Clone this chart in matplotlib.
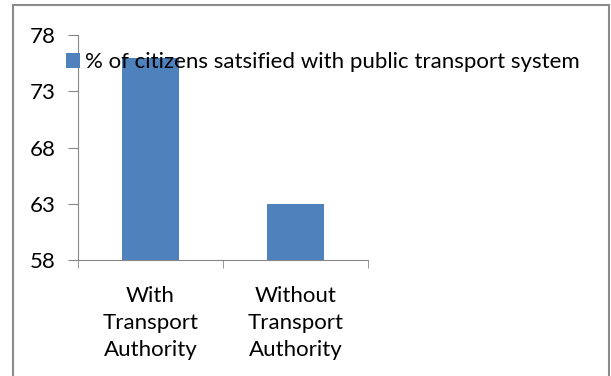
import matplotlib.pyplot as plt
from matplotlib.patches import Rectangle

categories = ["With\nTransport\nAuthority", "Without\nTransport\nAuthority"]
satisfied = [76, 63]
series_name = "% of citizens satsified with public transport system"
y_ticks = [58, 63, 68, 73, 78]

plt.rcParams['font.family'] = ['Lato', 'DejaVu Sans']

fig = plt.figure(figsize=(6.11, 3.76), dpi=100)
ax = fig.add_axes([78 / 611, 1 - 260 / 376, 290 / 611, 225 / 376])

ax.bar(range(len(categories)), satisfied, width=0.39, color='#4F81BD',
       label=series_name, zorder=2)

ax.set_ylim(58, 78)
ax.set_xlim(-0.5, 1.5)
ax.set_yticks(y_ticks)
ax.set_xticks(range(len(categories)))
ax.set_xticklabels(categories, fontsize=16, linespacing=1.42)
ax.set_xticks([-0.5, 0.5, 1.5], minor=True)
ax.tick_params(axis='x', which='major', length=0, pad=19)
ax.tick_params(axis='x', which='minor', length=6, color='#868686')
ax.tick_params(axis='y', length=7, color='#868686', labelsize=16, pad=9)

for s in ['top', 'right']:
    ax.spines[s].set_visible(False)
for s in ['left', 'bottom']:
    ax.spines[s].set_color('#868686')

fig.legend(loc='center left', bbox_to_anchor=(66 / 611, 1 - 62 / 376),
           frameon=False, fontsize=16, handlelength=0.65, handleheight=0.65,
           handletextpad=0.2, borderpad=0, borderaxespad=0)

# outer chart border
fig.patches.append(Rectangle((13 / 611, -0.05), 596 / 611, 1.05 - 5 / 376,
                             transform=fig.transFigure, fill=False,
                             edgecolor='#8C8C8C', linewidth=1.5))

plt.savefig('out.png', dpi=100)
